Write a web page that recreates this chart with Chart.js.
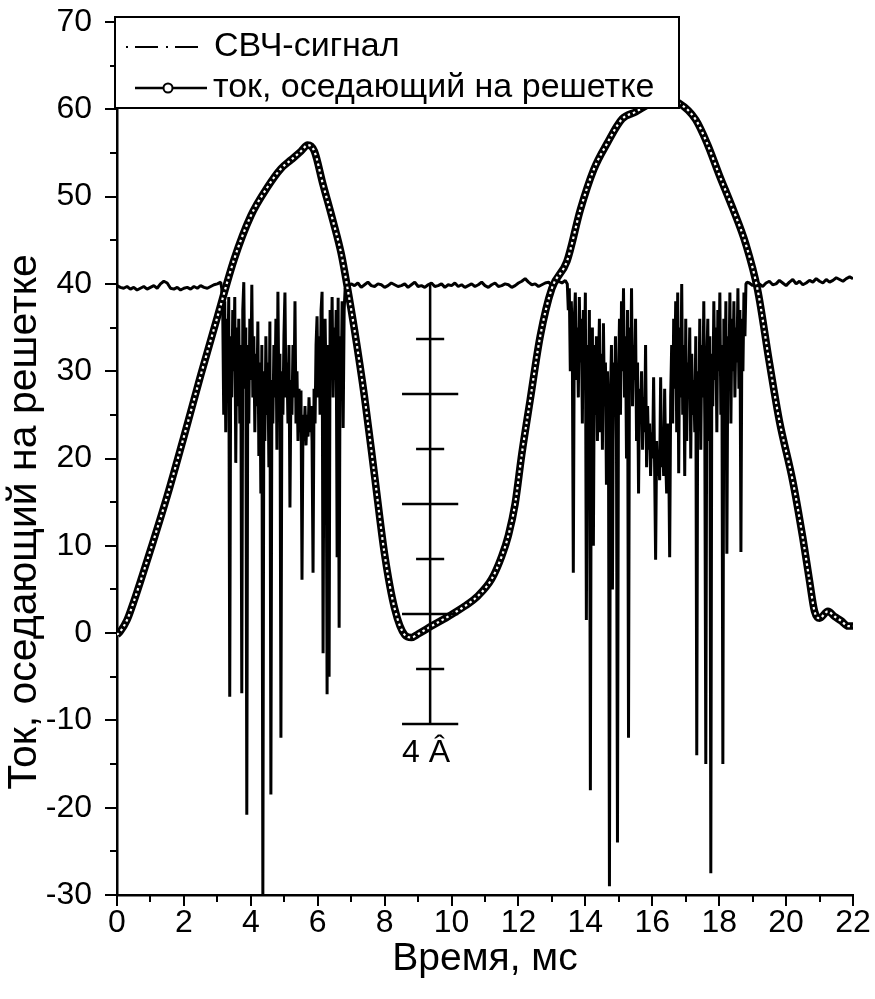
<!DOCTYPE html>
<html>
<head>
<meta charset="utf-8">
<script src="https://cdn.jsdelivr.net/npm/chart.js@4.4.1/dist/chart.umd.min.js"></script>
<style>
  html, body { margin: 0; padding: 0; background: #fff; }
  #wrap { width: 875px; height: 999px; position: relative; }
</style>
</head>
<body>
<div id="wrap"><canvas id="chart"></canvas></div>
<script>
// Ток на решетке и СВЧ-сигнал

const FONT = "'Liberation Sans', Arial, sans-serif";

// axes
const X_MIN = 0, X_MAX = 22, X_STEP = 2;
const Y_MIN = -30, Y_MAX = 70, Y_STEP = 10;

// СВЧ-сигнал: quiet stretches sampled every 0.1 ms, pulses every 0.03 ms
const rfQuietA = [
  39.8, 39.6, 39.5, 39.7, 39.4, 39.6, 39.3, 39.5, 39.7, 39.4,
  39.6, 39.8, 39.5, 40.0, 40.3, 40.1, 39.5, 39.4, 39.6, 39.3,
  39.5, 39.6, 39.4, 39.7, 39.5, 39.8, 39.6, 39.5, 39.7, 39.9,
  40.0, 40.2,
];
const rfPulse1 = [
  39.5, 37, 25, 38, 23, 36, 29, 38.5, -7.3, 34,
  27, 37, 30, 38.5, 19.5, 35, 26, 36, 24, 33,
  -6.9, 37, 40.2, 28, 35, -20.8, 33, 24, 36, 29,
  39.9, 27, 34, 23, 32, 26, 35.7, 20.3, 31, 16,
  33, -30, 30, 22, 34, 25, 31, 19, 35.7, -18.5,
  29, 24, 33, 27, 36, 21, 39.1, 26, 32, -12,
  30, 25, 34, 39, 27, 31, 24, 33, 14.4, 29,
  25, 33, 27, 38, 24, 30, 22, 28, 23, 27.8,
  6.1, 25, 22, 26, 21.5, 25, 22.5, 27, 23, 26,
  22, 6.9, 28, 24, 33, 36.3, 27, 34, 25, 37,
  39.1, -2.3, 31, 36, 28, -7, 33, -5, 37, 30,
  38.5, 27, 35, 29, 37, 8.7, 38.4, 0.6, 34, 28,
  38, 23.5, 37, 39.5,
];
const rfQuietB = [
  39.7, 40.0, 39.8, 40.1, 39.6, 39.9, 40.2, 39.8, 39.7, 40.0,
  39.9, 39.6, 39.8, 40.1, 39.9, 39.7, 39.8, 40.0, 39.6, 39.9,
  40.2, 39.7, 39.8, 39.6, 39.9, 40.1, 39.7, 39.8, 40.0, 39.6,
  39.9, 39.8, 40.1, 39.7, 39.9, 39.6, 39.8, 40.0, 39.7, 39.9,
  40.2, 39.8, 39.6, 39.9, 40.1, 39.7, 39.8, 40.0, 39.9, 39.6,
  39.8, 40.1, 40.3, 40.6, 40.2, 39.9, 40.0, 39.7, 39.9, 40.1,
  40.2, 39.8, 40.0, 40.3, 40.1, 40.4,
];
const rfPulse2 = [
  40, 37, 39.5, 30, 38, 33, 6.9, 36, 39, 29,
  35, 27, 38.5, 31, 36, 24, 37, 30, 39, 1.5,
  33, 26, 37, -18, 31, 35, 10, 33, 25, 34,
  22, 30, 36, 23, 32, 21, 35.5, 26, 31, 17,
  30, 24, -29, 27, 33, 5, 31, 26, 34, 22,
  -24, 29, 36, 25, 38, 30, 39.5, 27, 34, 20,
  37, -12, 35, 28, 39.5, 26, 33, 29, 36, 22,
  31, 16, 28, 24, 30, 21, 27, 23, 33, 19,
  26, 21, 24, 18, 23, 20, 29.3, 19, 8.4, 22,
  18, 21, 17.5, 29.3, 19, 22, 18, 28, 20, 16,
  24, 21, 8.7, 27, 33, 24, 36, 28, 38, 23,
  39, 18.3, 35, 27, 40, 25, 33, 18, 36, 22,
  31, 27, 35, 20, 32, 25, 29, 23, 34, -14,
  30, 25, 36, 21, 33, 27, 38, 24, -15, 31,
  36, 22, 34, -27.5, 32, 26, 38, 29, 35, 23,
  37, 30, 39, 25, 33, -15, 36, 27, 38, 9.1,
  34, 29, 39, 24, 36, 30, 38, 27, 35, 31,
  39.5, 28, 37, 9.3, 36, 30, 39, 34, 40, 40.2,
];
const rfQuietC = [
  40.1, 39.8, 40.2, 40.0, 39.7, 40.1, 40.3, 39.9, 40.0, 40.4,
  40.1, 39.8, 40.2, 40.5, 40.0, 40.3, 39.9, 40.1, 40.4, 40.2,
  40.6, 40.3, 40.1, 40.5, 40.2, 40.4, 40.7, 40.5, 40.3, 40.6,
  40.8, 40.6,
];
const rfSegments = [
  { start: 0.0,   step: 0.1,  values: rfQuietA },
  { start: 3.13,  step: 0.03, values: rfPulse1 },
  { start: 6.9,   step: 0.1,  values: rfQuietB },
  { start: 13.46, step: 0.03, values: rfPulse2 },
  { start: 18.9,  step: 0.1,  values: rfQuietC },
];

// ток, оседающий на решетке
const currentTime = [
  0, 0.1, 0.3, 0.5, 0.75, 1.0, 1.5, 2.0, 2.5, 3.0,
  3.5, 4.0, 4.5, 4.9, 5.2, 5.5, 5.7, 5.9, 6.15, 6.45,
  6.7, 6.9, 7.1, 7.4, 7.7, 8.0, 8.3, 8.6, 8.8, 9.0,
  9.4, 9.9, 10.4, 10.8, 11.2, 11.5, 11.7, 11.9, 12.1, 12.35,
  12.65, 13.0, 13.45, 13.85, 14.25, 14.65, 15.1, 15.5, 15.9, 16.3,
  16.8, 17.3, 17.65, 18.0, 18.4, 18.8, 19.15, 19.5, 19.8, 20.2,
  20.5, 20.7, 20.85, 21.0, 21.25, 21.45, 21.65, 21.85, 22.0,
];
const currentValue = [
  -0.2, 0.2, 1.5, 3.6, 6.5, 9.5, 15.7, 22.5, 29.5, 36.2,
  42.8, 47.8, 51.1, 53.2, 54.2, 55.2, 55.9, 55.2, 51.5, 47.3,
  43.5, 39.3, 34.7, 27, 18, 9, 2.8, -0.2, -0.5, -0.1,
  0.8, 1.9, 3.1, 4.3, 6.2, 8.8, 11.2, 14.8, 20.5, 26.7,
  34, 39.5, 42.6, 48.5, 53.1, 56.1, 58.9, 59.7, 60.6, 61.2,
  60.7, 58.8, 56, 52.5, 48.7, 44.5, 39.3, 31, 24.3, 17.4,
  10.9, 6, 2.5, 1.7, 2.5, 1.9, 1.4, 0.8, 0.8,
];

// масштабная линейка "4 Â"
const scaleBarX = 9.36;
const scaleBarTop = 40;
const scaleBarTicks = [33.7, 27.4, 21.1, 14.8, 8.5, 2.2, -4.1, -10.4];
const scaleBarLabel = '4 Â';

const legendLabels = ['СВЧ-сигнал', 'ток, оседающий на решетке'];
const xTitle = 'Время, мс';
const yTitle = 'Ток, оседающий на решетке';

function rfPoints() {
  const pts = [];
  rfSegments.forEach(seg => {
    seg.values.forEach((v, i) => pts.push({ x: +(seg.start + i * seg.step).toFixed(3), y: v }));
  });
  return pts;
}

function scaleBarPoints() {
  const pts = [{ x: scaleBarX, y: scaleBarTop }, { x: scaleBarX, y: scaleBarTicks[scaleBarTicks.length - 1] }];
  scaleBarTicks.forEach((v, i) => {
    const half = i % 2 === 1 ? 0.84 : 0.42;
    pts.push({ x: scaleBarX, y: null });
    pts.push({ x: scaleBarX - half, y: v }, { x: scaleBarX + half, y: v });
  });
  return pts;
}

const currentPts = currentTime.map((t, i) => ({ x: t, y: currentValue[i] }));

// minor/major tick marks, legend box, y title, scale label
const decorations = {
  id: 'decorations',
  afterDraw(chart) {
    const { ctx, scales: { x, y } } = chart;
    ctx.save();
    ctx.strokeStyle = '#000';
    ctx.lineWidth = 2;
    ctx.beginPath();
    for (let v = X_MIN; v <= X_MAX; v += 1) {
      const px = Math.round(x.getPixelForValue(v));
      ctx.moveTo(px, y.bottom);
      ctx.lineTo(px, y.bottom + (v % X_STEP === 0 ? 11 : 7));
    }
    for (let v = Y_MIN; v <= Y_MAX; v += 5) {
      const py = Math.round(y.getPixelForValue(v));
      ctx.moveTo(x.left, py);
      ctx.lineTo(x.left - (v % Y_STEP === 0 ? 12 : 7), py);
    }
    ctx.stroke();

    // scale label
    ctx.fillStyle = '#000';
    ctx.font = `32px ${FONT}`;
    ctx.textAlign = 'center';
    ctx.textBaseline = 'middle';
    ctx.fillText(scaleBarLabel, x.getPixelForValue(scaleBarX) - 4, y.getPixelForValue(-13.8));

    // legend box over the plot
    const bx = 115, by = 17, bw = 564, bh = 91;
    ctx.fillStyle = '#fff';
    ctx.fillRect(bx, by, bw, bh);
    ctx.lineWidth = 2;
    ctx.strokeRect(bx, by, bw, bh);

    ctx.fillStyle = '#000';
    ctx.textAlign = 'left';
    ctx.font = `34px ${FONT}`;
    // dash-dot symbol
    ctx.lineWidth = 2;
    ctx.beginPath();
    ctx.setLineDash([2, 7, 23, 8]);
    ctx.moveTo(126, 47);
    ctx.lineTo(203, 47);
    ctx.stroke();
    ctx.setLineDash([]);
    ctx.fillText(legendLabels[0], 214, 47);
    // line + circle symbol
    ctx.lineWidth = 2.5;
    ctx.beginPath();
    ctx.moveTo(135, 88);
    ctx.lineTo(207, 88);
    ctx.stroke();
    ctx.beginPath();
    ctx.arc(168, 88, 4.5, 0, Math.PI * 2);
    ctx.fillStyle = '#fff';
    ctx.fill();
    ctx.lineWidth = 2;
    ctx.stroke();
    ctx.fillStyle = '#000';
    ctx.fillText(legendLabels[1], 213, 88);

    // y axis title
    ctx.save();
    ctx.translate(25, 522);
    ctx.rotate(-Math.PI / 2);
    ctx.textAlign = 'center';
    ctx.font = `41px ${FONT}`;
    ctx.fillText(yTitle, 0, 0);
    ctx.restore();
    ctx.restore();
  },
};

new Chart(document.getElementById('chart'), {
  type: 'line',
  data: {
    datasets: [
      {
        label: 'scale',
        data: scaleBarPoints(),
        borderColor: '#000',
        borderWidth: 2.5,
        pointRadius: 0,
        spanGaps: false,
        order: 0,
      },
      {
        label: 'current-inner',
        data: currentPts,
        borderColor: '#fff',
        borderWidth: 2.2,
        borderDash: [2.5, 3],
        cubicInterpolationMode: 'monotone',
        pointRadius: 0,
        order: 1,
      },
      {
        label: legendLabels[1],
        data: currentPts,
        borderColor: '#000',
        borderWidth: 7.5,
        cubicInterpolationMode: 'monotone',
        pointRadius: 0,
        order: 2,
      },
      {
        label: legendLabels[0],
        data: rfPoints(),
        borderColor: '#000',
        borderWidth: 3,
        borderJoinStyle: 'bevel',
        pointRadius: 0,
        tension: 0,
        order: 3,
      },
    ],
  },
  options: {
    responsive: true,
    maintainAspectRatio: false,
    animation: false,
    layout: { padding: { top: 22, right: 22, left: 0, bottom: 0 } },
    plugins: {
      legend: { display: false },
      tooltip: { enabled: false },
    },
    scales: {
      x: {
        type: 'linear',
        min: X_MIN,
        max: X_MAX,
        afterFit: s => { s.height = 104; s.paddingLeft = 0; s.paddingRight = 0; },
        grid: { display: false },
        border: { display: true, color: '#000', width: 2.5 },
        ticks: {
          stepSize: X_STEP,
          color: '#000',
          padding: 1,
          font: { family: FONT, size: 32 },
        },
        title: {
          display: true,
          text: xTitle,
          color: '#000',
          font: { family: FONT, size: 39 },
          padding: { top: 0, bottom: 16 },
        },
      },
      y: {
        min: Y_MIN,
        max: Y_MAX,
        afterFit: s => { s.width = 117; s.paddingTop = 0; s.paddingBottom = 0; },
        grid: { display: false },
        border: { display: true, color: '#000', width: 2.5 },
        ticks: {
          stepSize: Y_STEP,
          color: '#000',
          padding: 17,
          font: { family: FONT, size: 32 },
        },
      },
    },
  },
  plugins: [decorations],
});
</script>
</body>
</html>
